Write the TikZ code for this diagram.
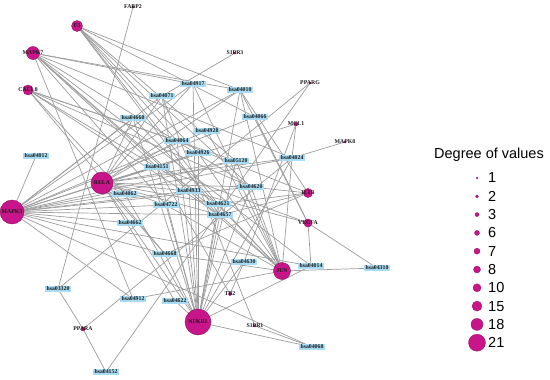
\documentclass[tikz,border=0pt]{standalone}
\usepackage{fontspec}
\setmainfont{Liberation Serif}
\setsansfont{Liberation Sans}
\usetikzlibrary{positioning,backgrounds}
\definecolor{genec}{HTML}{C8168A}
\definecolor{gened}{HTML}{8A0C5C}
\definecolor{pathc}{HTML}{A8DCF4}
\definecolor{edgec}{HTML}{9C9C9C}
\tikzset{
  edge/.style={draw=edgec,line width=0.7pt},
  pathbox/.style={fill=pathc,inner xsep=1.4pt,inner ysep=1.3pt,font=\bfseries\fontsize{5.8}{6.5}\selectfont,text=black!90},
  gene/.style={circle,fill=genec,draw=gened,line width=0.4pt,inner sep=0pt},
  glabel/.style={font=\bfseries\fontsize{5.8}{6.5}\selectfont,inner sep=0pt,text=black!90},
  legc/.style={circle,fill=genec,draw=gened,line width=0.3pt,inner sep=0pt},
  legtxt/.style={font=\sffamily\fontsize{14.5}{16}\selectfont,anchor=west,inner sep=0pt},
}
\newcommand{\gnode}[4]{\node[gene,minimum size=#3] (#1) at (#2) {};\node[glabel] at (#1) {#4};}
\newcommand{\pnode}[2]{\node[pathbox] (p#1) at (#2) {hsa#1};}

\begin{document}
\begin{tikzpicture}[x=1pt,y=-1pt]
  \useasboundingbox (0,0) rectangle (550,380);
  % pathways
  \pnode{04917}{193,84}
  \pnode{04071}{162,96}
  \pnode{04010}{240,90}
  \pnode{04066}{255,117}
  \pnode{04660}{133,118}
  \pnode{04928}{207,131}
  \pnode{04064}{177,141}
  \pnode{04926}{198,153}
  \pnode{05120}{236,161}
  \pnode{04024}{292,158}
  \pnode{04012}{36,156}
  \pnode{04151}{157,167}
  \pnode{04062}{125,194}
  \pnode{04933}{189,191}
  \pnode{04620}{251,187}
  \pnode{04621}{218,204}
  \pnode{04657}{220,215}
  \pnode{04722}{166,205}
  \pnode{04662}{130,223}
  \pnode{04668}{165,254}
  \pnode{03320}{58,289}
  \pnode{04912}{133,299}
  \pnode{04622}{175,301}
  \pnode{04152}{106,372}
  \pnode{04630}{244,262}
  \pnode{04014}{311,266}
  \pnode{04310}{377,268}
  \pnode{04068}{312,347}
  % genes
  \gnode{MAPK3}{12,212}{24}{MAPK3}
  \gnode{NFKB1}{198,322}{26}{NFKB1}
  \gnode{RELA}{102,183}{22}{RELA}
  \gnode{JUN}{282,271}{17}{JUN}
  \gnode{MAPK7}{33,53}{13}{MAPK7}
  \gnode{F3}{77,26}{11}{F3}
  \gnode{CXCL8}{28,90}{10}{CXCL8}
  \gnode{IL1B}{308,193}{9}{IL1B}
  \gnode{VEGFA}{308,223}{8}{VEGFA}
  \gnode{MCL1}{296,124}{4}{MCL1}
  \gnode{PPARA}{83,329}{4}{PPARA}
  \gnode{TB2}{230,294}{3}{TB2}
  \gnode{PPARG}{310,83}{2}{PPARG}
  \gnode{FABP2}{133,7}{2}{FABP2}
  \gnode{S1PR3}{235,53}{2}{S1PR3}
  \gnode{S1PR1}{255,326}{2}{S1PR1}
  \gnode{MAPK8}{345,142}{2}{MAPK8}
  % edges
  \begin{scope}[on background layer]
    \foreach \p in {04917,04071,04010,04066,04660,04928,04926,05120,04024,04012,04151,04062,04933,04620,04657,04722,04662,04668,04912,04014,04068}
      \draw[edge] (MAPK3.center) -- (p\p.center);
    \foreach \p in {04917,04071,04010,04660,04064,04926,05120,04024,04151,04062,04933,04620,04621,04657,04722,04662,04668,04622,04630,04014,04068}
      \draw[edge] (NFKB1.center) -- (p\p.center);
    \foreach \p in {04917,04071,04010,04660,04064,04926,05120,04024,04151,04062,04933,04620,04621,04657,04722,04662,04668,04622}
      \draw[edge] (RELA.center) -- (p\p.center);
    \foreach \p in {04917,04010,04660,04928,04926,05120,04024,04933,04620,04621,04657,04722,04668,04912,04310}
      \draw[edge] (JUN.center) -- (p\p.center);
    \foreach \p in {04917,04010,04024,04151,04933,04620,04657,04722,04912,04014}
      \draw[edge] (MAPK7.center) -- (p\p.center);
    \foreach \p in {04010,04066,04064,04926,05120,04620,04621,04657}
      \draw[edge] (F3.center) -- (p\p.center);
    \foreach \p in {04062,04620,04621,04657,05120,04064,04668}
      \draw[edge] (CXCL8.center) -- (p\p.center);
    \foreach \p in {04010,04064,04620,04621,04657,04668}
      \draw[edge] (IL1B.center) -- (p\p.center);
    \foreach \p in {04066,04151,04014,04010,04933,04310}
      \draw[edge] (VEGFA.center) -- (p\p.center);
    \foreach \p in {04024,04151,04630}
      \draw[edge] (MCL1.center) -- (p\p.center);
    \foreach \p in {03320,04152}
      \draw[edge] (PPARG.center) -- (p\p.center);
    \foreach \p in {03320,04152,04024}
      \draw[edge] (PPARA.center) -- (p\p.center);
    \foreach \p in {04630,04151}
      \draw[edge] (TB2.center) -- (p\p.center);
    \foreach \p in {04071,04068}
      \draw[edge] (S1PR1.center) -- (p\p.center);
    \draw[edge] (FABP2.center) -- (p03320.center);
    \draw[edge] (S1PR3.center) -- (p04071.center);
    \draw[edge] (MAPK8.center) -- (p04024.center);
  \end{scope}
  % legend
  \node[font=\sffamily\fontsize{14.5}{16}\selectfont,inner sep=0pt] (legtitle) at (489,155) {Degree of values};
  \foreach \d/\s [count=\i] in {1/2,2/3,3/4,6/5,7/6,8/7,10/8,15/10,18/12,21/17} {
    \node[legc,minimum size=\s pt] (lc\i) at (477,{178+18.3*(\i-1)}) {};
    \node[legtxt] (lt\i) at (488,{178+18.3*(\i-1)}) {\d};
  }
\end{tikzpicture}
\end{document}
